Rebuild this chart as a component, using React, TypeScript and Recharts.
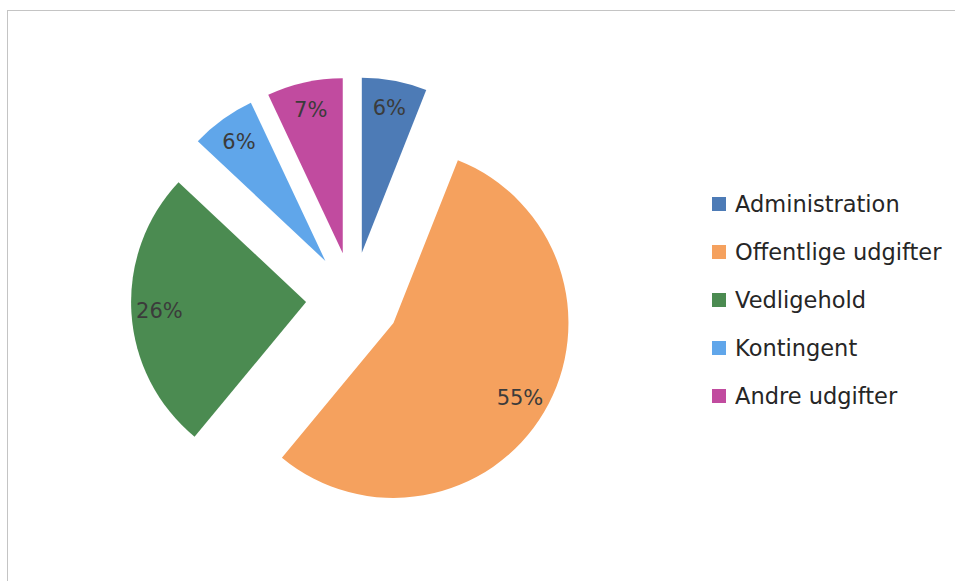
import { PieChart, Pie, Cell, Legend, Sector } from "recharts";

const categories = [
  "Administration",
  "Offentlige udgifter",
  "Vedligehold",
  "Kontingent",
  "Andre udgifter",
];
const shares = [6, 55, 26, 6, 7];
const colors = ["#4d7bb6", "#f5a15e", "#4b8b51", "#60a6ea", "#c14b9f"];

const data = categories.map((name, i) => ({ name, value: shares[i] }));

const RAD = Math.PI / 180;
const EXPLODE = 47;
const FONT = "'DejaVu Sans', sans-serif";

// every slice is pulled out from the centre along its middle angle
const ExplodedSector = (props: any) => {
  const { cx, cy, midAngle } = props;
  const dx = EXPLODE * Math.cos(-midAngle * RAD);
  const dy = EXPLODE * Math.sin(-midAngle * RAD);
  return <Sector {...props} cx={cx + dx} cy={cy + dy} stroke="none" />;
};

const renderLabel = (props: any) => {
  const { cx, cy, midAngle, outerRadius, percent } = props;
  const r = EXPLODE + outerRadius * 0.84;
  const x = cx + r * Math.cos(-midAngle * RAD);
  const y = cy + r * Math.sin(-midAngle * RAD);
  return (
    <text
      x={x}
      y={y}
      fill="#3b3b3b"
      textAnchor="middle"
      dominantBaseline="central"
      fontSize={21}
      fontFamily={FONT}
    >
      {`${Math.round(percent * 100)}%`}
    </text>
  );
};

// keep the legend in data order (recharts sorts it by name otherwise)
const renderLegend = (props: any) => {
  const payload = [...(props.payload || [])].sort(
    (a: any, b: any) => categories.indexOf(a.value) - categories.indexOf(b.value)
  );
  return (
    <ul style={{ listStyle: "none", margin: 0, padding: 0 }}>
      {payload.map((entry: any) => (
        <li
          key={entry.value}
          style={{ height: 48, display: "flex", alignItems: "center" }}
        >
          <span
            style={{
              width: 14,
              height: 14,
              background: entry.color,
              marginRight: 9,
              display: "inline-block",
            }}
          />
          <span style={{ fontSize: 22.5, fontFamily: FONT, color: "#262626" }}>
            {entry.value}
          </span>
        </li>
      ))}
    </ul>
  );
};

export default function App() {
  return (
    <div
      style={{
        position: "absolute",
        left: 0,
        top: 0,
        width: 955,
        height: 581,
        background: "#fff",
      }}
    >
      <div
        style={{
          position: "absolute",
          left: 7,
          top: 10,
          right: 0,
          bottom: 0,
          borderTop: "1px solid #c4c4c4",
          borderLeft: "1px solid #c4c4c4",
        }}
      />
      <PieChart
        width={955}
        height={581}
        margin={{ top: 0, right: 0, bottom: 0, left: 0 }}
      >
        <Pie
          data={data}
          dataKey="value"
          nameKey="name"
          cx={353}
          cy={299}
          outerRadius={175}
          startAngle={90}
          endAngle={-270}
          stroke="none"
          shape={ExplodedSector}
          label={renderLabel}
          labelLine={false}
          isAnimationActive={false}
        >
          {data.map((d, i) => (
            <Cell key={d.name} fill={colors[i]} />
          ))}
        </Pie>
        <Legend
          layout="vertical"
          align="right"
          verticalAlign="top"
          content={renderLegend}
          wrapperStyle={{ left: 712, top: 180, width: 243 }}
        />
      </PieChart>
    </div>
  );
}
